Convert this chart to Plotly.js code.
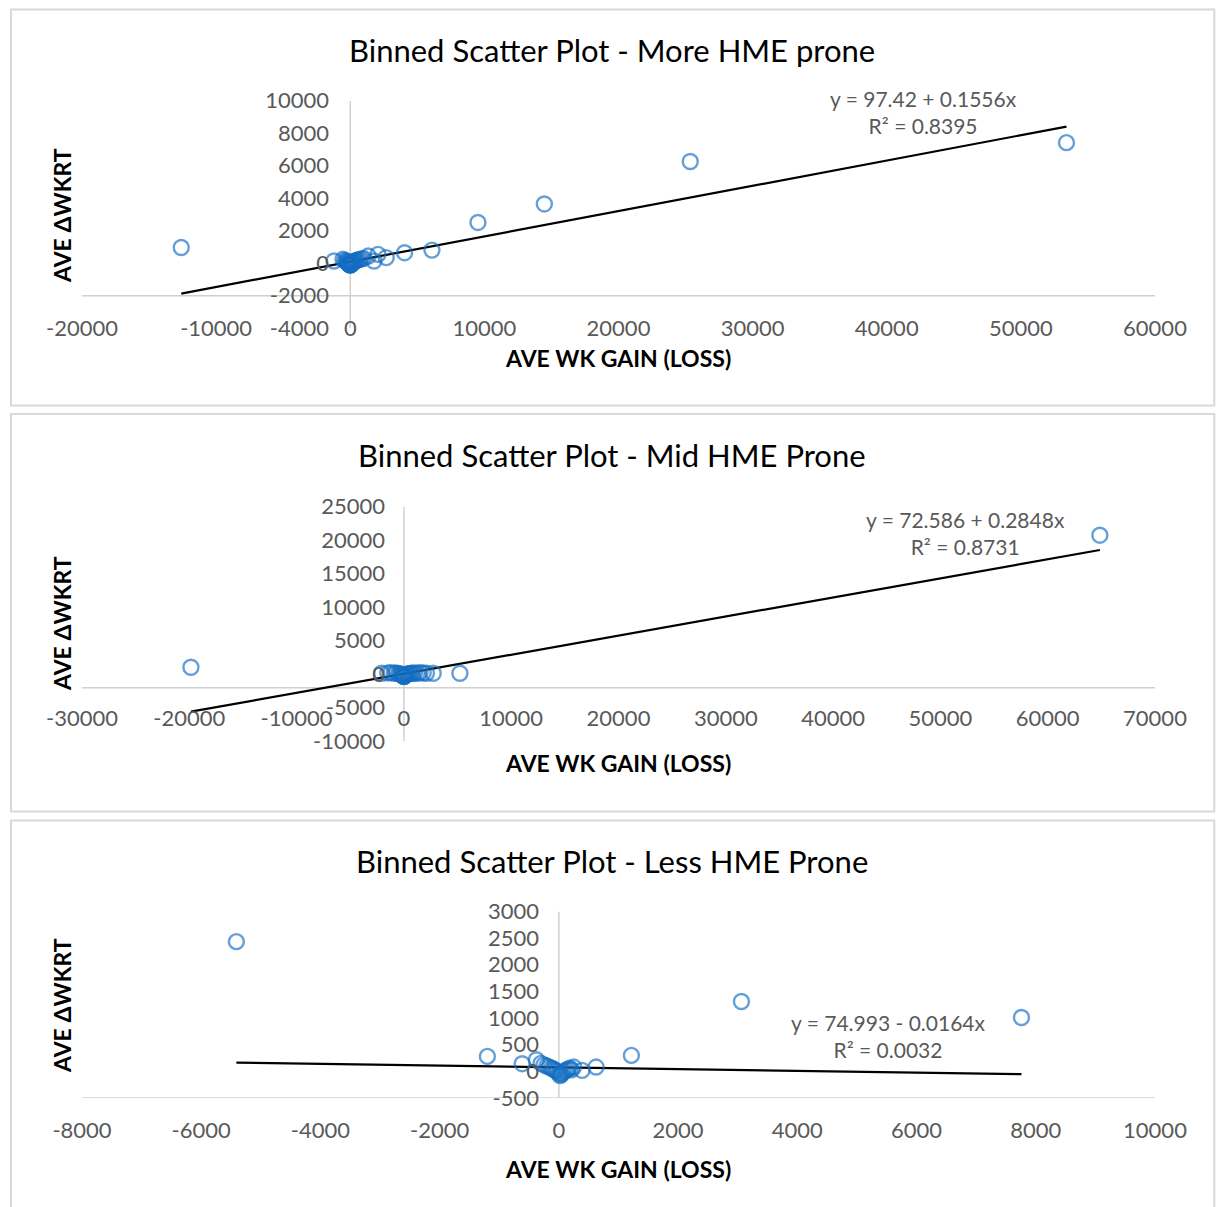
<!DOCTYPE html>
<html>
<head>
<meta charset="utf-8">
<script src="https://cdn.plot.ly/plotly-3.0.1.min.js"></script>
<style>html,body{margin:0;padding:0;background:#fff}#chart{width:1216px;height:1207px}</style>
</head>
<body>
<div id="chart"></div>
<script>
// ---------- DATA ----------
const titles = ["Binned Scatter Plot - More HME prone", "Binned Scatter Plot - Mid HME Prone", "Binned Scatter Plot - Less HME Prone"];
const xAxisTitle = "AVE WK GAIN (LOSS)";
const yAxisTitle = "AVE ΔWKRT";
const equations = ["y = 97.42 + 0.1556x<br>R² = 0.8395", "y = 72.586 + 0.2848x<br>R² = 0.8731", "y = 74.993 - 0.0164x<br>R² = 0.0032"];

// Panel 1 (More HME prone)
const p1x = [-12600, -1215, -545, -400, -300, -250, -200, -150, -120, -90, -60, -30, 0, 20, 40, 70, 100, 130, 170, 210, 260, 320, 390, 470, 560, 700, 850, 1000, 1340, 1770, 2065, 2680, 4050, 6090, 9520, 14470, 25350, 53400];
const p1y = [970, 140, 243, 180, 120, 80, 40, 10, -20, -50, -80, -100, -120, -100, -80, -60, -30, 0, 30, 60, 90, 120, 150, 180, 210, 240, 270, 300, 445, 140, 547, 345, 650, 810, 2510, 3650, 6260, 7420];
const t1x = [-12600, 53400];
const t1y = [-1863, 8406];
const p1xTicks = [-20000, -10000, 0, 10000, 20000, 30000, 40000, 50000, 60000];
const p1xLabels = ["-20000", "-10000", "0", "10000", "20000", "30000", "40000", "50000", "60000"];
const p1yTicks = [-4000, -2000, 0, 2000, 4000, 6000, 8000, 10000];
const p1yLabels = ["-4000", "-2000", "0", "2000", "4000", "6000", "8000", "10000"];

// Panel 2 (Mid HME Prone)
const p2x = [-19850, -2080, -1500, -1200, -900, -700, -500, -350, -250, -150, -80, -30, 0, 30, 80, 150, 250, 350, 500, 650, 800, 1000, 1250, 1500, 1800, 2100, 2730, 5220, 64860];
const p2y = [1045, 150, 200, 250, 150, 200, 100, 50, 0, -100, -200, -300, -350, -300, -200, -100, 0, 50, 100, 150, 150, 200, 150, 250, 200, 150, 150, 150, 20750];
const t2x = [-19850, 64860];
const t2y = [-5581, 18545];
const p2xTicks = [-30000, -20000, -10000, 0, 10000, 20000, 30000, 40000, 50000, 60000, 70000];
const p2xLabels = ["-30000", "-20000", "-10000", "0", "10000", "20000", "30000", "40000", "50000", "60000", "70000"];
const p2yTicks = [-10000, -5000, 0, 5000, 10000, 15000, 20000, 25000];
const p2yLabels = ["-10000", "-5000", "0", "5000", "10000", "15000", "20000", "25000"];

// Panel 3 (Less HME Prone)
const p3x = [-5410, -1200, -616, -377, -300, -250, -200, -160, -120, -90, -60, -30, 0, 20, 40, 60, 90, 120, 150, 180, 210, 248, 389, 624, 1216, 3062, 7760];
const p3y = [2434, 281, 144, 219, 150, 120, 100, 80, 60, 40, 20, 0, -40, -80, -60, -30, 0, 20, 40, 60, 30, 81, 19, 81, 300, 1311, 1011];
const t3x = [-5410, 7760];
const t3y = [163.7, -52.3];
const p3xTicks = [-8000, -6000, -4000, -2000, 0, 2000, 4000, 6000, 8000, 10000];
const p3xLabels = ["-8000", "-6000", "-4000", "-2000", "0", "2000", "4000", "6000", "8000", "10000"];
const p3yTicks = [-500, 0, 500, 1000, 1500, 2000, 2500, 3000];
const p3yLabels = ["-500", "0", "500", "1000", "1500", "2000", "2500", "3000"];

// ---------- LAYOUT HELPERS ----------
const W = 1216, H = 1207;
const px = v => v / W;
const py = v => 1 - v / H;

const panels = [
  {xs: p1x, ys: p1y, tx: t1x, ty: t1y, xr: [-20000, 60000], yr: [-4000, 10000],
   xtv: p1xTicks, xtt: p1xLabels, ytv: p1yTicks, ytt: p1yLabels,
   top: 100.7, bot: 328.3, hline: -2000, vline: 0, vlinePx: 348, xlab: 328, box: [9.5, 405.5], title: 50, xt: 358, yt: 216, eq: [924, 112]},
  {xs: p2x, ys: p2y, tx: t2x, ty: t2y, xr: [-30000, 70000], yr: [-10000, 25000],
   xtv: p2xTicks, xtt: p2xLabels, ytv: p2yTicks, ytt: p2yLabels,
   top: 506.7, bot: 741.3, hline: -2000, vline: 0, vlinePx: 404, xlab: 718, box: [414, 811.5], title: 455, xt: 763, yt: 624, eq: [965, 533]},
  {xs: p3x, ys: p3y, tx: t3x, ty: t3y, xr: [-8000, 10000], yr: [-500, 3000],
   xtv: p3xTicks, xtt: p3xLabels, ytv: p3yTicks, ytt: p3yLabels,
   top: 911.5, bot: 1098, hline: -500, vline: 0, vlinePx: 558, xlab: 1130, box: [820.5, 1215], title: 861, xt: 1169, yt: 1006, eq: [888, 1036]}
];

const FONT = "Lato, 'Open Sans', sans-serif";
const tickFont = {family: FONT, size: 22, color: "#595959"};
const markerColor = "rgba(20,110,195,0.66)";
const traces = [];
const layout = {
  width: W, height: H,
  margin: {l: 0, r: 0, t: 0, b: 0},
  paper_bgcolor: "#fff", plot_bgcolor: "rgba(0,0,0,0)",
  showlegend: false,
  shapes: [], annotations: []
};

panels.forEach((p, i) => {
  const n = i === 0 ? "" : String(i + 1);
  const xa = "x" + n, ya = "y" + n;
  traces.push({
    type: "scatter", mode: "lines", x: p.tx, y: p.ty, xaxis: xa, yaxis: ya,
    line: {color: "#000", width: 2.2}, hoverinfo: "skip"
  });
  traces.push({
    type: "scatter", mode: "markers", x: p.xs, y: p.ys, xaxis: xa, yaxis: ya,
    marker: {symbol: "circle-open", size: 15, color: markerColor, line: {width: 2.4, color: markerColor}}
  });
  layout["xaxis" + n] = {
    domain: [px(82), px(1155)], range: p.xr, tickmode: "array", tickvals: p.xtv, ticktext: p.xtt,
    anchor: "free", position: py(p.xlab - 15),
    showgrid: false, zeroline: false, showline: false, ticks: "",
    tickfont: tickFont, fixedrange: true
  };
  layout["yaxis" + n] = {
    domain: [py(p.bot), py(p.top)], range: p.yr, tickmode: "array", tickvals: p.ytv, ticktext: p.ytt,
    anchor: "free", position: px(p.vlinePx - 19),
    showgrid: false, zeroline: false, showline: false, ticks: "",
    tickfont: tickFont, fixedrange: true
  };
  layout.shapes.push({type: "line", xref: xa, yref: ya, x0: p.xr[0], x1: p.xr[1], y0: p.hline, y1: p.hline,
    line: {color: "#D0D0D0", width: 1.5}, layer: "below"});
  layout.shapes.push({type: "line", xref: xa, yref: ya, x0: p.vline, x1: p.vline, y0: p.yr[0], y1: p.yr[1],
    line: {color: "#D0D0D0", width: 1.5}, layer: "below"});
  layout.shapes.push({type: "rect", xref: "paper", yref: "paper", x0: px(11), x1: px(1214.3), y0: py(p.box[1]), y1: py(p.box[0]),
    line: {color: "#D9D9D9", width: 2}, layer: "below"});
  layout.annotations.push({xref: "paper", yref: "paper", x: px(612), y: py(p.title), xanchor: "center", yanchor: "middle",
    text: titles[i], showarrow: false, font: {family: FONT, size: 31, color: "#000"}});
  layout.annotations.push({xref: "paper", yref: "paper", x: px(618), y: py(p.xt), xanchor: "center", yanchor: "middle",
    text: "<b>" + xAxisTitle + "</b>", showarrow: false, font: {family: FONT, size: 23, color: "#000"}});
  layout.annotations.push({xref: "paper", yref: "paper", x: px(62), y: py(p.yt), xanchor: "center", yanchor: "middle",
    text: "<b>" + yAxisTitle + "</b>", textangle: -90, showarrow: false, font: {family: FONT, size: 23, color: "#000"}});
  layout.annotations.push({xref: "paper", yref: "paper", x: px(p.eq[0]), y: py(p.eq[1]), xanchor: "center", yanchor: "middle",
    align: "center", text: equations[i], showarrow: false, font: {family: FONT, size: 21, color: "#595959"}});
});

Plotly.newPlot("chart", traces, layout, {displayModeBar: false, staticPlot: true});
</script>
</body>
</html>
